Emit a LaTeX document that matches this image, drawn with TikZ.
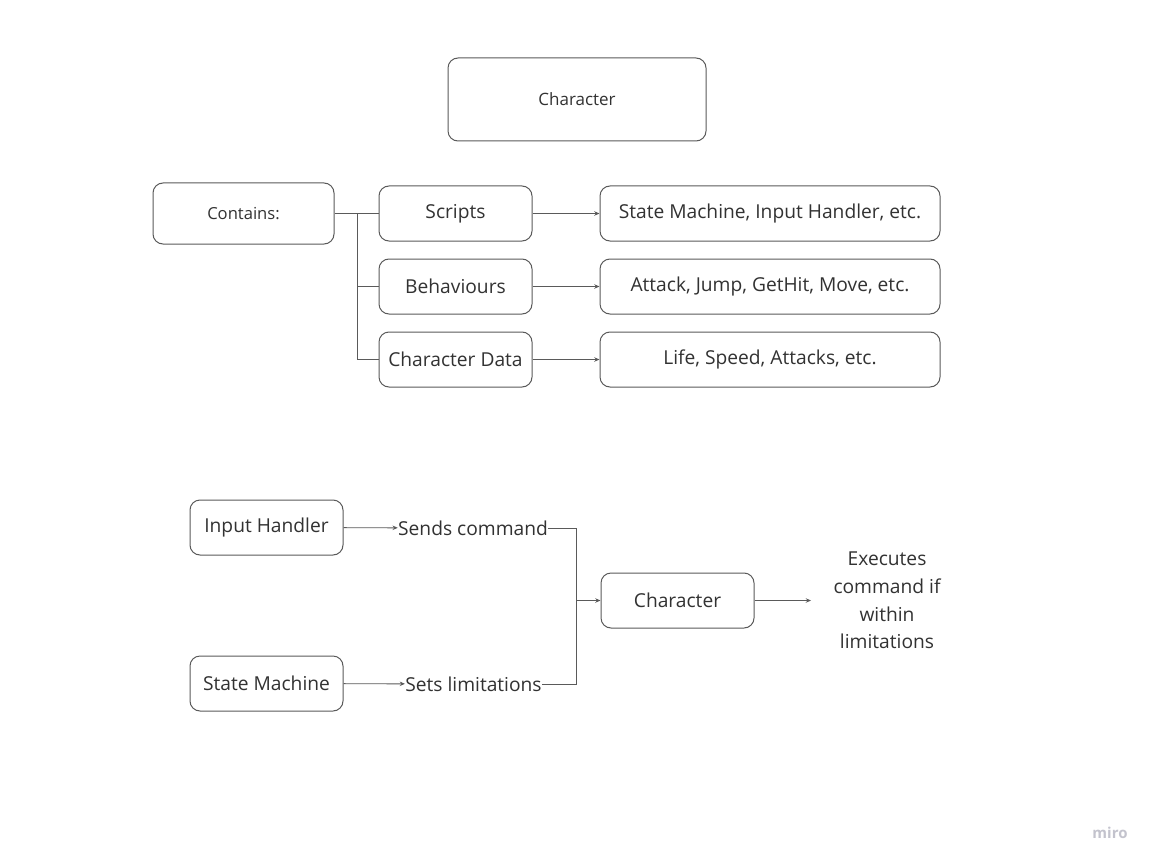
\documentclass[tikz,border=0pt]{standalone}
\usepackage{fontspec}
\setmainfont{Open Sans}
\usetikzlibrary{positioning}
\usetikzlibrary{shapes,arrows.meta}
\definecolor{linegray}{RGB}{90,90,90}
\definecolor{textgray}{RGB}{50,50,50}
\definecolor{mirogray}{RGB}{195,195,205}

\begin{document}
\begin{tikzpicture}[x=0.5pt,y=-0.5pt,>={Stealth[length=2.6pt,width=2.2pt]},thin]
\tikzset{box/.style = {draw=linegray,rectangle,rounded corners=5pt,
                       line width=0.5pt,text=textgray,
                       minimum width=76.5pt,minimum height=27.5pt,
                       font=\fontsize{9.6}{11}\selectfont},
         bigbox/.style = {box,minimum width=129pt,minimum height=41.5pt,
                       font=\fontsize{8.5}{10}\selectfont},
         wide/.style = {box,minimum width=170pt},
         label/.style = {text=textgray,inner sep=0pt,
                       font=\fontsize{9.6}{13.8}\selectfont},
         link/.style = {draw=linegray,line width=0.45pt},
         arr/.style = {link,->}}
\useasboundingbox[fill=white] (0,0) rectangle (1154,866);

% top part
\node[bigbox] (char) at (577,99.5) {Character};
\node[box,minimum width=90.5pt,minimum height=30.5pt,
      font=\fontsize{8.3}{10}\selectfont] (contains) at (243.5,213.5) {Contains:};
\node[box] (scripts) at (455.5,213.5) {Scripts};
\node[box] (behav) at (455.5,286.5) {Behaviours};
\node[box] (data) at (455.5,359.5) {Character Data};
\node[wide] (sm) at (770,213.5) {State Machine, Input Handler, etc.};
\node[wide] (ajg) at (770,286.5) {Attack, Jump, GetHit, Move, etc.};
\node[wide] (lsa) at (770,359.5) {Life, Speed, Attacks, etc.};

\coordinate (fork) at (357,213.5);
\draw[link] (contains) -- (scripts);
\draw[link] (fork) |- (behav);
\draw[link] (fork) |- (data);
\draw[arr] (scripts) -- (sm);
\draw[arr] (behav) -- (ajg);
\draw[arr] (data) -- (lsa);

% bottom part
\node[box] (input) at (266.5,527.5) {Input Handler};
\node[box] (state) at (266.5,683.5) {State Machine};
\node[label] (sends) at (473,528) {Sends command};
\node[label] (sets) at (473.5,684) {Sets limitations};
\node[box] (char2) at (677.5,600.5) {Character};
\node[label,align=center] (exec) at (887,600.5)
     {Executes\\command if\\within\\limitations};

\coordinate (join) at (576,600.5);
\coordinate (out) at (811,600.5);
\draw[arr] (input) -- (sends);
\draw[arr] (state) -- (sets);
\draw[link] (sends) -| (join);
\draw[link] (sets) -| (join);
\draw[arr] (join) -- (char2);
\draw[arr] (char2) -- (out);

\node[text=mirogray,font=\fontsize{7.5}{9}\selectfont\bfseries] (miro) at (1110,833) {miro};
\end{tikzpicture}
\end{document}
